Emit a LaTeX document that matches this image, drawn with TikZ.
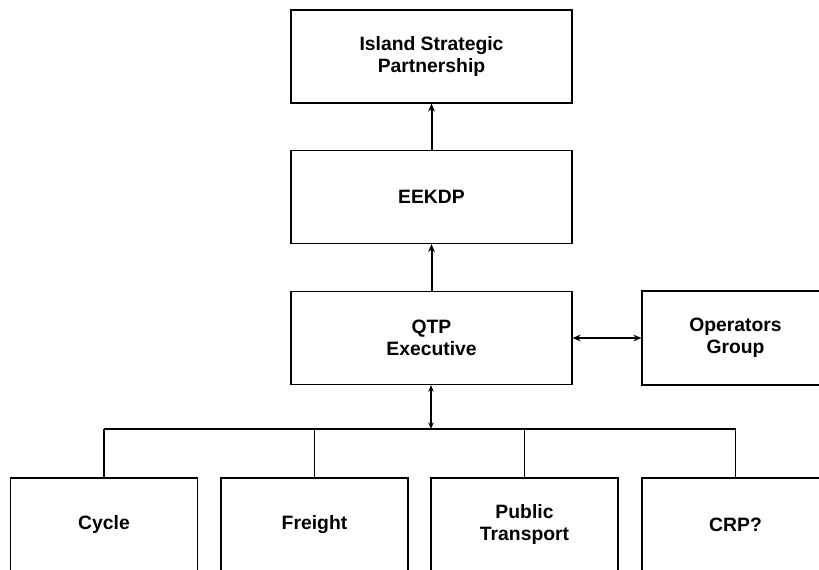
\documentclass[tikz,border=0pt]{standalone}
\usepackage{fontspec}
\setmainfont{Liberation Sans}
\usetikzlibrary{arrows.meta}

\begin{document}
\begin{tikzpicture}[x=0.75pt,y=-0.75pt,
                        box/.style={draw,line width=0.8pt,minimum width=281*0.75pt,minimum height=93*0.75pt,align=center,
                            font=\bfseries\fontsize{14.5}{16.5}\selectfont},
                        subbox/.style={box,minimum width=187*0.75pt,minimum height=94*0.75pt},
                        up/.style={line width=1.5pt,-{Stealth[length=6pt,width=5pt]}},
                        both/.style={line width=1.5pt,{Stealth[length=6pt,width=5pt]}-{Stealth[length=6pt,width=5pt]}},
                        thinboth/.style={line width=0.8pt,{Stealth[length=5pt,width=4pt]}-{Stealth[length=5pt,width=4pt]}}]
                        \useasboundingbox (0,0) rectangle (819,570);

                        \node[box] (isp) at (431.5,56.5) {Island Strategic\\Partnership};
                        \node[box] (eekdp) at (431.5,197) {EEKDP};
                        \node[box] (qtp) at (431.5,338) {QTP\\Executive};
                        \node[subbox] (ops) at (735.5,338) {Operators\\Group};

                        \node[subbox] (cycle) at (104,525) {Cycle};
                        \node[subbox] (freight) at (314.5,525) {Freight};
                        \node[subbox] (public) at (524.5,525) {Public\\Transport};
                        \node[subbox] (crp) at (735.5,525) {CRP?};

                        \draw[up] (eekdp) -- (isp);
                        \draw[up] (qtp) -- (eekdp);
                        \draw[both] (qtp) -- (ops);

                        \coordinate (bus) at (431,429);
                        \draw[thinboth] (qtp.south -| bus) -- (bus);
                        \draw[line width=0.8pt] (cycle.north |- bus) -- (crp.north |- bus);
                        \foreach \n in {cycle,freight,public,crp}
                            \draw[line width=0.8pt] (\n.north) -- (\n.north |- bus);
                    \end{tikzpicture}
\end{document}
